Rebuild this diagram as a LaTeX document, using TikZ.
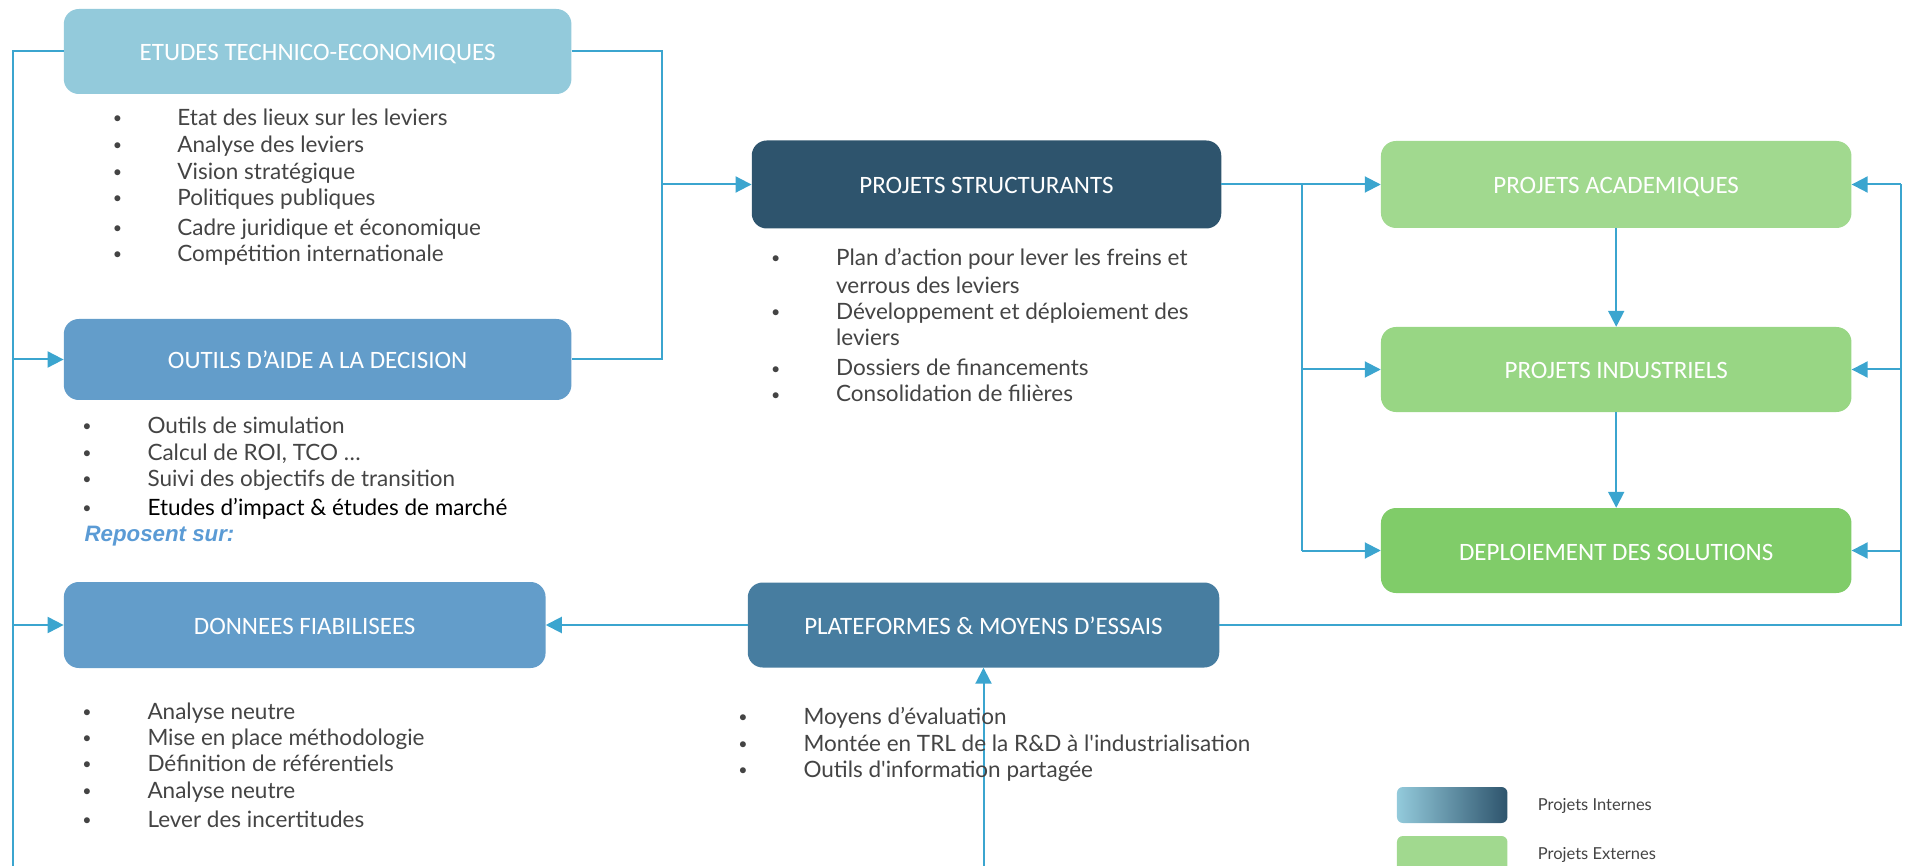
\documentclass[tikz,border=0pt]{standalone}
\usepackage{fontspec}
\usetikzlibrary{arrows.meta}
\newfontfamily\bodyf{Lato}
\newfontfamily\titf{Carlito}
\newfontfamily\repf{Liberation Sans}
\definecolor{lineblue}{HTML}{3BA5CF}
\definecolor{cEtu}{HTML}{93CADB}
\definecolor{cOut}{HTML}{639DCA}
\definecolor{cPS}{HTML}{2E546D}
\definecolor{cPlat}{HTML}{477DA0}
\definecolor{cAca}{HTML}{A1D98F}
\definecolor{cInd}{HTML}{98D684}
\definecolor{cDep}{HTML}{80CC69}
\definecolor{bodygray}{HTML}{444444}
\definecolor{repblue}{HTML}{5B9BD5}
\newcommand\bitem[5]{%
  \node[bultxt,anchor=base] (#1b) at (#2,#4-2) {•};
  \node[bodytxt,anchor=base west] (#1) at (#3,#4) {#5};}
\begin{document}
\begin{tikzpicture}[x=1pt,y=-1pt,
  box/.style={rounded corners=15pt, inner sep=0pt, text=white,
    text height=19pt, text depth=0pt,
    font=\titf\fontsize{25}{30}\selectfont},
  conn/.style={draw=lineblue, line width=2pt},
  arr/.style={conn, -{Triangle[length=16pt,width=16pt]}},
  bodytxt/.style={inner sep=0pt, text=bodygray, font=\bodyf\fontsize{22.5}{27}\selectfont},
  bultxt/.style={inner sep=0pt, text=bodygray, font=\bodyf\fontsize{16}{20}\selectfont},
  legtxt/.style={inner sep=0pt, text=bodygray, font=\bodyf\fontsize{16.5}{20}\selectfont},
]
\useasboundingbox (0,0) rectangle (1906,866);

% boxes
\node[box, fill=cEtu, minimum width=507.6pt, minimum height=85pt] (etu) at (317.6,51.5) {ETUDES TECHNICO-ECONOMIQUES};
\node[box, fill=cOut, minimum width=507.6pt, minimum height=81pt] (out) at (317.6,359.5) {OUTILS D’AIDE A LA DECISION};
\node[box, fill=cOut, minimum width=481.7pt, minimum height=86pt] (don) at (304.7,625) {DONNEES FIABILISEES};
\node[box, fill=cPS, minimum width=469.5pt, minimum height=88pt] (ps) at (986.5,184.5) {PROJETS STRUCTURANTS};
\node[box, fill=cPlat, minimum width=471.5pt, minimum height=85pt] (plat) at (983.5,625) {PLATEFORMES \& MOYENS D’ESSAIS};
\node[box, fill=cAca, minimum width=470.5pt, minimum height=87pt] (aca) at (1616.2,184.5) {PROJETS ACADEMIQUES};
\node[box, fill=cInd, minimum width=470.5pt, minimum height=85pt] (ind) at (1616.2,369.5) {PROJETS INDUSTRIELS};
\node[box, fill=cDep, minimum width=470.5pt, minimum height=85pt] (dep) at (1616.2,550.5) {DEPLOIEMENT DES SOLUTIONS};

% rails
\coordinate (lx) at (12.5,866);
\coordinate (rx) at (662,0);
\coordinate (gx) at (1302,0);
\coordinate (ex) at (1901,0);
\coordinate (pb) at (983.5,866);

\draw[conn] (etu.west) -- (etu.west -| lx) -- (lx);
\draw[arr] (out.west -| lx) -- (out.west);
\draw[arr] (don.west -| lx) -- (don.west);

\draw[conn] (etu.east) -- (etu.east -| rx) -- (out.east -| rx) -- (out.east);
\draw[arr] (ps.west -| rx) -- (ps.west);

\draw[arr] (ps.east) -- (aca.west);
\draw[conn] (ps.east -| gx) -- (dep.west -| gx);
\draw[arr] (ind.west -| gx) -- (ind.west);
\draw[arr] (dep.west -| gx) -- (dep.west);
\draw[arr] (aca.south) -- (ind.north);
\draw[arr] (ind.south) -- (dep.north);

\draw[conn] (plat.east) -- (plat.east -| ex) -- (aca.east -| ex);
\draw[arr] (aca.east -| ex) -- (aca.east);
\draw[arr] (ind.east -| ex) -- (ind.east);
\draw[arr] (dep.east -| ex) -- (dep.east);
\draw[arr] (plat.west) -- (don.east);
\draw[arr] (pb) -- (plat.south);

% lists
\bitem{e1}{117.4}{177.2}{126}{Etat des lieux sur les leviers}
\bitem{e2}{117.4}{177.2}{153}{Analyse des leviers}
\bitem{e3}{117.4}{177.2}{180}{Vision stratégique}
\bitem{e4}{117.4}{177.2}{206}{Politiques publiques}
\bitem{e5}{117.4}{177.2}{236}{Cadre juridique et économique}
\bitem{e6}{117.4}{177.2}{262}{Compétition internationale}

\bitem{o1}{87}{147.3}{433}{Outils de simulation}
\bitem{o2}{87}{147.3}{460}{Calcul de ROI, TCO …}
\bitem{o3}{87}{147.3}{486}{Suivi des objectifs de transition}
\bitem{o4}{87}{147.3}{515}{\color{black}Etudes d’impact \& études de marché}
\node[inner sep=0pt, anchor=base west, text=repblue, font=\repf\fontsize{22.3}{27}\selectfont\bfseries\itshape] (rep) at (84.3,541.5) {Reposent sur:};

\bitem{d1}{87}{147.3}{719}{Analyse neutre}
\bitem{d2}{87}{147.3}{745}{Mise en place méthodologie}
\bitem{d3}{87}{147.3}{771}{Définition de référentiels}
\bitem{d4}{87}{147.3}{798}{Analyse neutre}
\bitem{d5}{87}{147.3}{827}{Lever des incertitudes}

\bitem{p1}{775.8}{835.9}{266}{Plan d’action pour lever les freins et}
\node[bodytxt, anchor=base west] (p1c) at (835.9,294) {verrous des leviers};
\bitem{p2}{775.8}{835.9}{320}{Développement et déploiement des}
\node[bodytxt, anchor=base west] (p2c) at (835.9,346) {leviers};
\bitem{p3}{775.8}{835.9}{376}{Dossiers de financements}
\bitem{p4}{775.8}{835.9}{402}{Consolidation de filières}

\bitem{m1}{743}{803.3}{724}{Moyens d’évaluation}
\bitem{m2}{743}{803.3}{751}{Montée en TRL de la R\&D à l'industrialisation}
\bitem{m3}{743}{803.3}{777}{Outils d'information partagée}

% legend
\node[rounded corners=6pt, left color=cEtu, right color=cPS, minimum width=110.5pt, minimum height=36pt, inner sep=0pt] (legint) at (1452.2,805) {};
\node[rounded corners=6pt, fill=cAca, minimum width=110.5pt, minimum height=36pt, inner sep=0pt] (legext) at (1452.2,854) {};
\node[legtxt, anchor=base west] (legintt) at (1537.7,810) {Projets Internes};
\node[legtxt, anchor=base west] (legextt) at (1537.7,859) {Projets Externes};
\end{tikzpicture}
\end{document}
